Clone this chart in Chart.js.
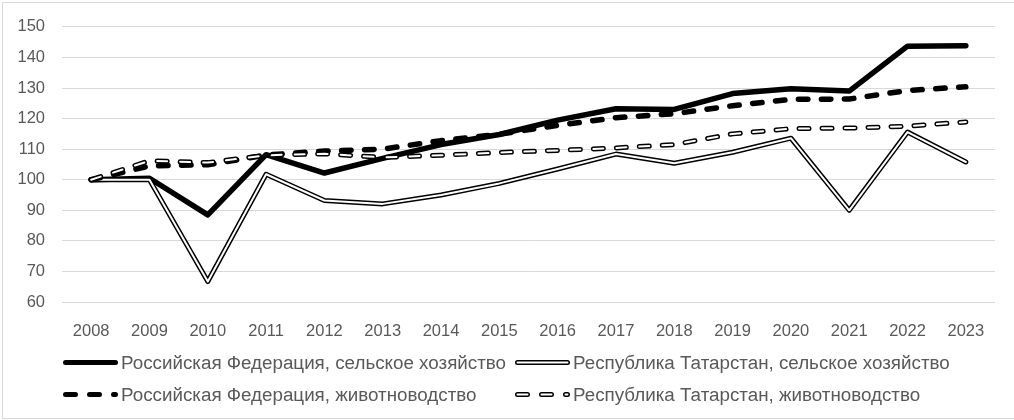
<!DOCTYPE html>
<html>
<head>
<meta charset="utf-8">
<script src="https://cdn.jsdelivr.net/npm/chart.js@4/dist/chart.umd.min.js"></script>
<style>
    body { margin: 0; background: #fff; }
    .chart_container { position: relative; width: 1014px; height: 420px; }
</style>
</head>
<body>
<div class="chart_container">
    <canvas id="indexChart"></canvas>
</div>
<script>
const years = ["2008", "2009", "2010", "2011", "2012", "2013", "2014", "2015",
    "2016", "2017", "2018", "2019", "2020", "2021", "2022", "2023"];

// Индексы производства, 2008 = 100
const rfAgri = [100, 100.5, 88.5, 108.2, 102.2, 107, 111.5, 114.8, 119.5, 123.2, 123, 128.2, 129.8, 129, 143.7, 143.8];
const rtAgri = [100, 100, 66.7, 101.8, 93.2, 92.1, 95, 98.8, 103.5, 108.4, 105.4, 109, 113.6, 90, 115.6, 105.8];
const rfLive = [100, 104.5, 104.9, 108.1, 109.4, 110, 112.8, 114.9, 117.8, 120.3, 121.6, 124.2, 126.3, 126.4, 129.2, 130.4];
const rtLive = [100, 106.2, 105.6, 108, 108.5, 107.3, 108, 108.9, 109.6, 110.4, 111.5, 115, 116.7, 116.9, 117.5, 118.9];

const seriesNames = [
    "Российская Федерация, сельское хозяйство",
    "Республика Татарстан, сельское хозяйство",
    "Российская Федерация, животноводство",
    "Республика Татарстан, животноводство",
];

const yTicks = [60, 70, 80, 90, 100, 110, 120, 130, 140, 150];

const FONT = "'Liberation Sans', Arial, sans-serif";

const base = {
    pointRadius: 0,
    tension: 0,
    fill: false,
    borderCapStyle: "round",
    borderJoinStyle: "round",
};

// the hollow lines are a wide black line with a thin white one on top
const datasets = [
    { ...base, label: seriesNames[0], data: rfAgri, borderColor: "#000", borderWidth: 5.5, order: 5 },
    { ...base, label: seriesNames[1], data: rtAgri, borderColor: "#000", borderWidth: 5, order: 4 },
    { ...base, label: "", data: rtAgri, borderColor: "#fff", borderWidth: 2, order: 3 },
    { ...base, label: seriesNames[2], data: rfLive, borderColor: "#000", borderWidth: 5.5, borderDash: [9.5, 13.5], order: 2 },
    { ...base, label: seriesNames[3], data: rtLive, borderColor: "#000", borderWidth: 5, borderDash: [10, 13], order: 1 },
    { ...base, label: "", data: rtLive, borderColor: "#fff", borderWidth: 2, borderDash: [10, 13], order: 0 },
];

const legendStyles = ["solid", "double", "dashed", "hollowDashed"];

const gridLegend = {
    id: "gridLegend",
    beforeDraw(chart) {
        const ctx = chart.ctx;
        ctx.save();
        ctx.strokeStyle = "#d9d9d9";
        ctx.lineWidth = 1;
        ctx.strokeRect(2.5, 2.5, 1030, 416);
        ctx.restore();
    },
    afterDraw(chart) {
        const ctx = chart.ctx;
        const colX = [63, 515];
        const rowY = [362.5, 394.5];
        ctx.save();
        seriesNames.forEach((name, i) => {
            const x = colX[i % 2];
            const y = rowY[Math.floor(i / 2)];
            const style = legendStyles[i];
            ctx.lineCap = "round";
            ctx.strokeStyle = "#000";
            ctx.setLineDash(style.includes("ashed") ? [10, 14] : []);
            ctx.lineWidth = 5;
            ctx.beginPath();
            ctx.moveTo(x + 2.5, y);
            ctx.lineTo(x + 52.5, y);
            ctx.stroke();
            if (style == "double" || style == "hollowDashed") {
                ctx.strokeStyle = "#fff";
                ctx.lineWidth = 2;
                ctx.beginPath();
                ctx.moveTo(x + 2.5, y);
                ctx.lineTo(x + 52.5, y);
                ctx.stroke();
            }
            ctx.setLineDash([]);
            ctx.fillStyle = "#595959";
            ctx.font = "18.8px " + FONT;
            ctx.textBaseline = "middle";
            ctx.fillText(name, x + 58, y + 1);
        });
        ctx.restore();
    },
};

new Chart("indexChart", {
    type: "line",
    data: { labels: years, datasets: datasets },
    options: {
        responsive: true,
        maintainAspectRatio: false,
        animation: false,
        layout: { padding: { left: 0, right: 19, top: 25, bottom: 78 } },
        plugins: {
            legend: { display: false },
            tooltip: { enabled: false },
        },
        scales: {
            x: {
                offset: true,
                grid: { display: false },
                border: { display: false },
                ticks: { color: "#595959", font: { size: 16.5, family: FONT }, padding: 12, maxRotation: 0 },
                afterFit: (scale) => { scale.height = 40; },
            },
            y: {
                min: yTicks[0],
                max: yTicks[yTicks.length - 1],
                afterBuildTicks: (scale) => { scale.ticks = yTicks.map((v) => ({ value: v })); },
                grid: { color: "#d9d9d9", lineWidth: 1, drawTicks: false },
                border: { display: false },
                ticks: { color: "#595959", font: { size: 16.5, family: FONT }, padding: 17 },
                afterFit: (scale) => { scale.width = 62; },
            },
        },
    },
    plugins: [gridLegend],
});
</script>
</body>
</html>
